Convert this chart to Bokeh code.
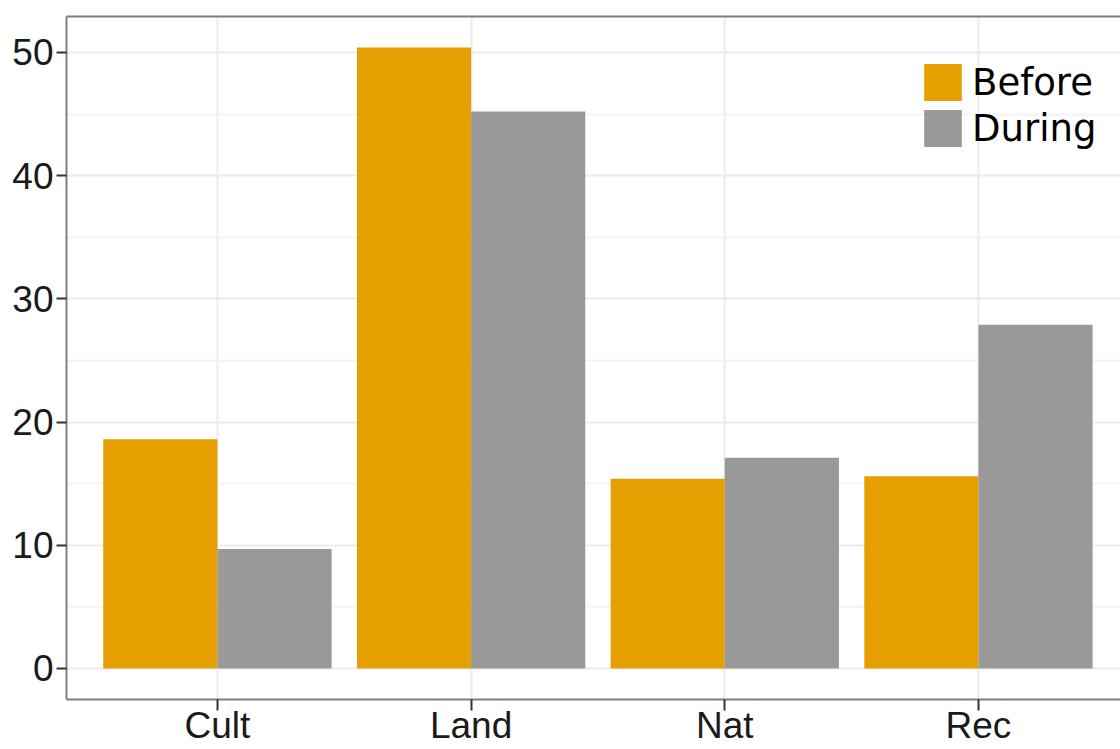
from bokeh.plotting import figure
from bokeh.models import ColumnDataSource, Range1d, LinearAxis, FixedTicker
from bokeh.transform import dodge
from bokeh.embed import file_html
from bokeh.resources import INLINE

categories = ["Cult", "Land", "Nat", "Rec"]
before = [18.6, 50.4, 15.4, 15.6]
during = [9.7, 45.2, 17.1, 27.9]
series_names = ["Before", "During"]
series_colors = ["#E69F00", "#999999"]
y_ticks = [0, 10, 20, 30, 40, 50]

positions = list(range(1, len(categories) + 1))
y_minor = [(a + b) / 2 for a, b in zip(y_ticks[:-1], y_ticks[1:])] + [y_ticks[-1] + (y_ticks[1] - y_ticks[0]) / 2]

source = ColumnDataSource(dict(x=positions, cat=categories, before=before, during=during))

p = figure(width=1120, height=749, output_backend="svg", toolbar_location=None, title=None,
           x_range=Range1d(0.405, 4.56), y_range=Range1d(-2.52, 52.92),
           min_border_left=66, min_border_right=0, min_border_top=16, min_border_bottom=50)
p.outline_line_color = None
p.background_fill_color = "white"

bw = 0.45
p.vbar(x=dodge("x", -bw / 2, range=p.x_range), top="before", width=bw, source=source,
       fill_color=series_colors[0], line_color=None, legend_label=series_names[0])
p.vbar(x=dodge("x", bw / 2, range=p.x_range), top="during", width=bw, source=source,
       fill_color=series_colors[1], line_color=None, legend_label=series_names[1])

# axes
border = "#7F7F7F"
p.yaxis.ticker = FixedTicker(ticks=y_ticks, minor_ticks=y_minor)
p.yaxis.axis_line_color = border
p.yaxis.axis_line_width = 2
p.yaxis.major_tick_line_color = "#333333"
p.yaxis.major_tick_line_width = 2
p.yaxis.major_tick_out = 10
p.yaxis.major_tick_in = 0
p.yaxis.minor_tick_line_color = None
p.yaxis.major_label_standoff = 3
p.yaxis.major_label_text_font = "Liberation Sans"
p.yaxis.major_label_text_font_size = "37px"
p.yaxis.major_label_text_color = "#1A1A1A"

p.xaxis.ticker = FixedTicker(ticks=positions)
p.xaxis.major_label_overrides = {i: c for i, c in zip(positions, categories)}
p.xaxis.axis_line_color = border
p.xaxis.axis_line_width = 2
p.xaxis.major_tick_line_color = "#333333"
p.xaxis.major_tick_line_width = 2
p.xaxis.major_tick_out = 11
p.xaxis.major_tick_in = 0
p.xaxis.minor_tick_line_color = None
p.xaxis.major_label_text_font = "Liberation Sans"
p.xaxis.major_label_text_font_size = "37px"
p.xaxis.major_label_text_color = "#1A1A1A"
p.xaxis.major_label_standoff = -6

top = LinearAxis(ticker=FixedTicker(ticks=[]), major_tick_line_color=None,
                 minor_tick_line_color=None, major_label_standoff=0,
                 major_tick_out=0, major_tick_in=0,
                 axis_line_color=border, axis_line_width=2)
p.add_layout(top, "above")

# grid
p.xgrid.ticker = FixedTicker(ticks=positions)
p.xgrid.grid_line_color = "#EBEBEB"
p.xgrid.grid_line_width = 2
p.ygrid.ticker = FixedTicker(ticks=y_ticks, minor_ticks=y_minor)
p.ygrid.grid_line_color = "#EBEBEB"
p.ygrid.grid_line_width = 2
p.ygrid.minor_grid_line_color = "#F4F4F4"
p.ygrid.minor_grid_line_width = 2

# legend
lg = p.legend[0]
lg.location = (853, 548)
lg.padding = 0
lg.spacing = 0
lg.margin = 0
lg.glyph_width = 47
lg.glyph_height = 46
lg.label_standoff = 6
lg.label_text_font = "DejaVu Sans"
lg.label_text_font_size = "37px"
lg.label_text_color = "#000000"
lg.label_text_baseline = "middle"
lg.background_fill_alpha = 0
lg.border_line_color = None

open("out.html", "w").write(file_html(p, INLINE))
